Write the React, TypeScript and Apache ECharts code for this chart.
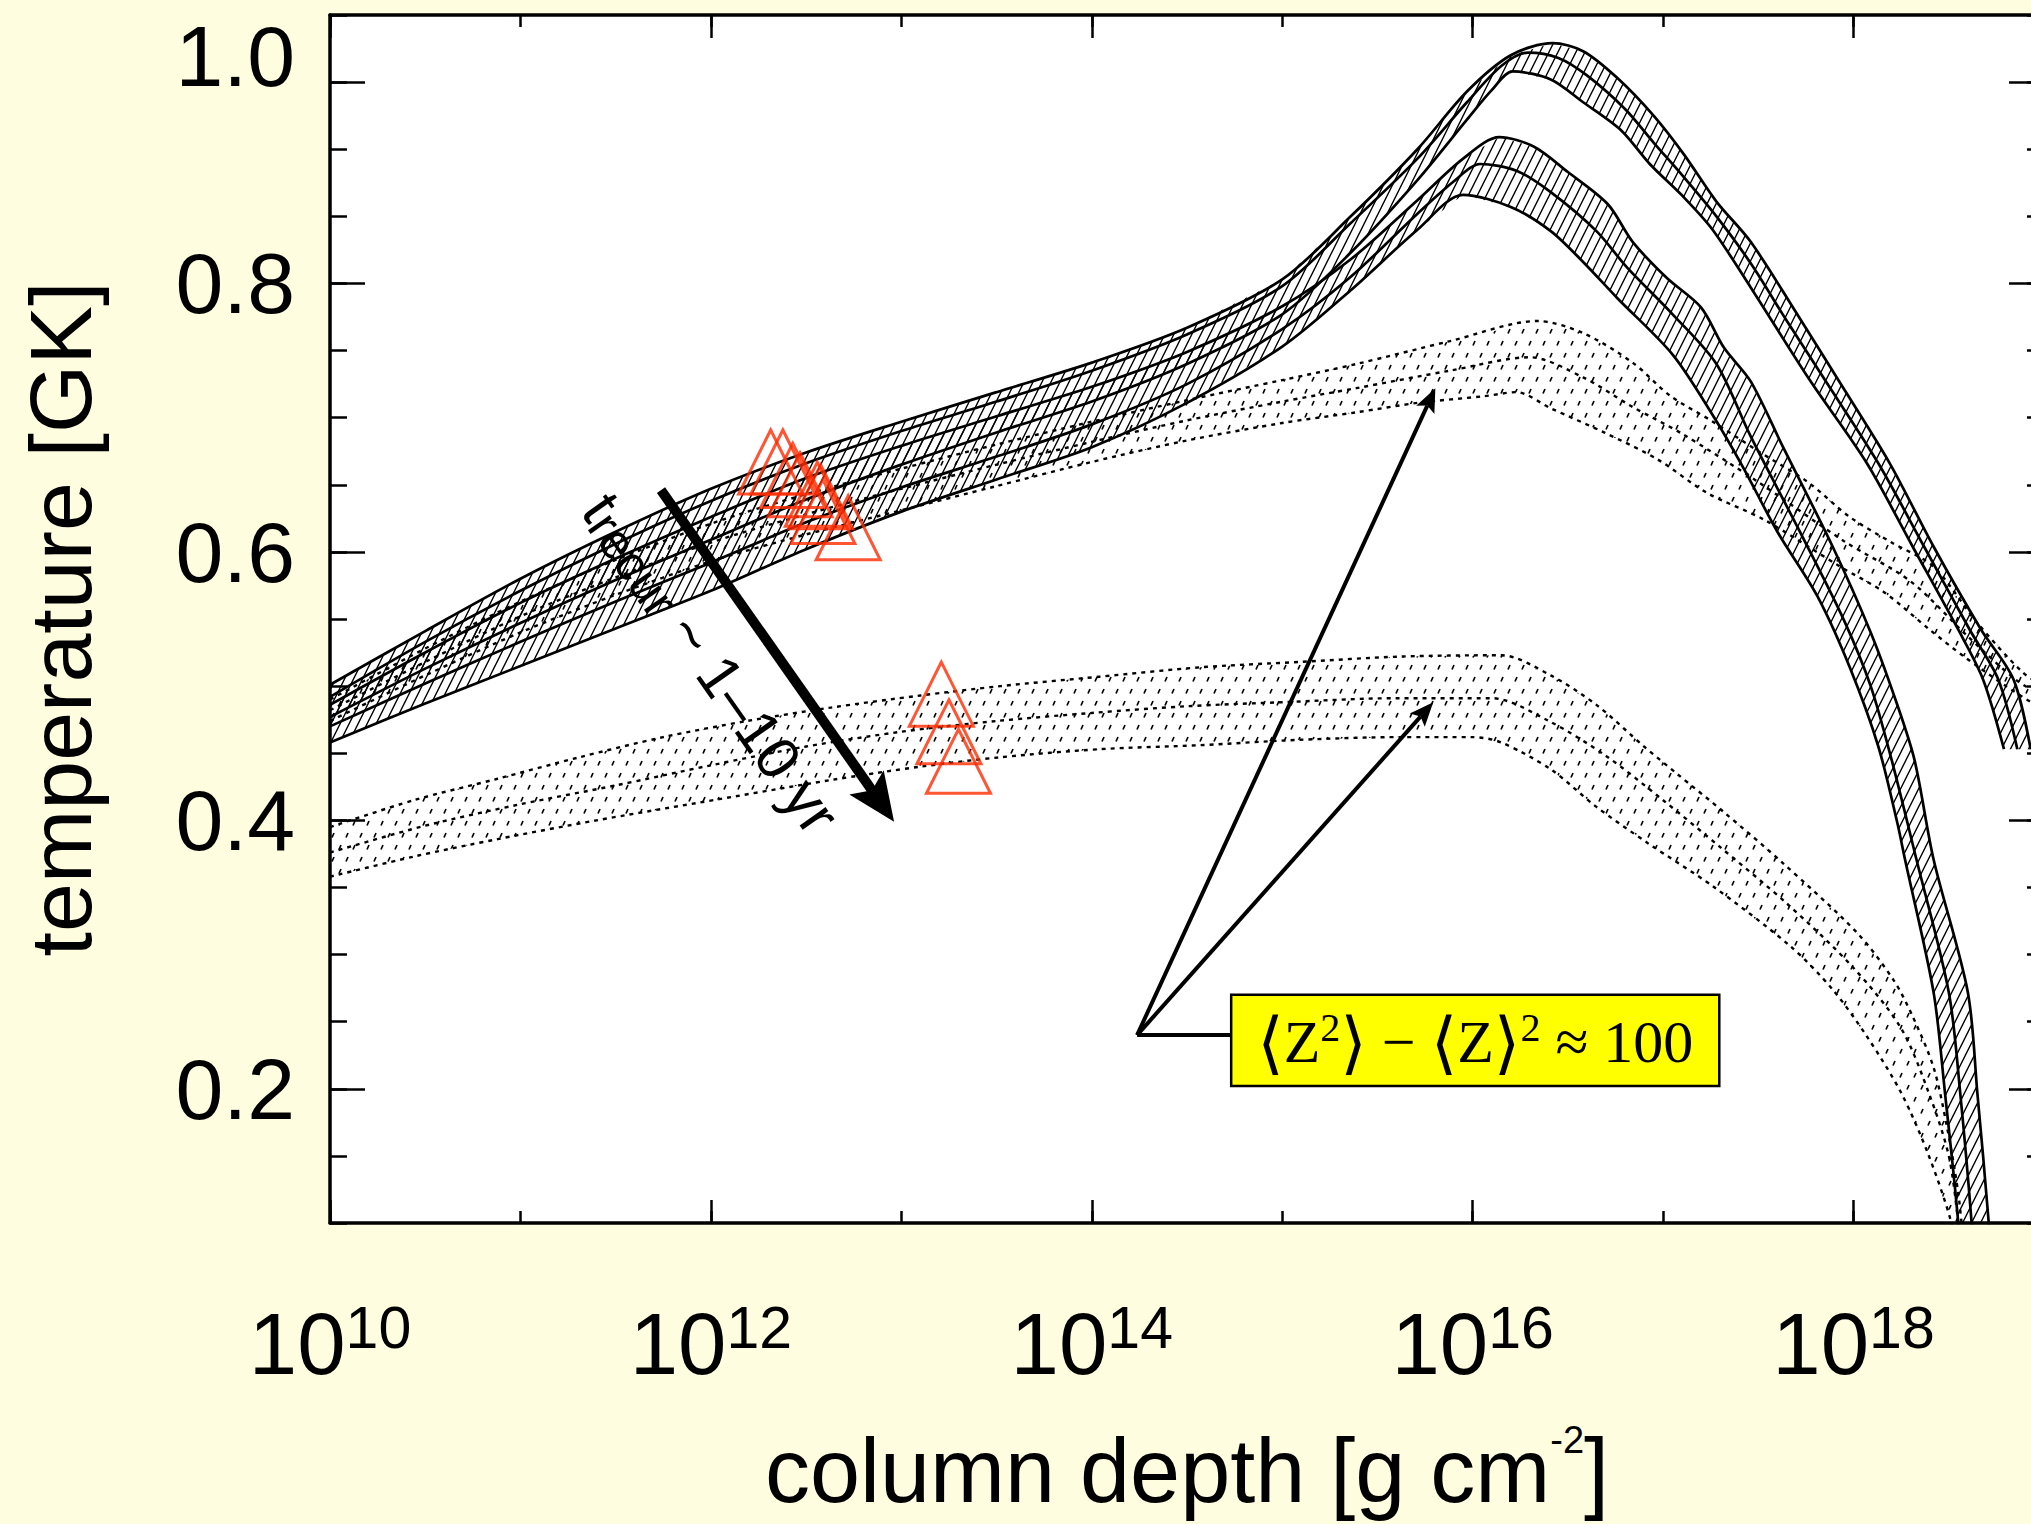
import React, { useEffect, useRef } from 'react';
import * as echarts from 'echarts';

// x: log10(column depth / g cm^-2), y: temperature [GK]
const g1Upper: number[][] = [[10,0.501],[10.5,0.541],[11,0.580],[11.5,0.615],[12,0.647],[12.5,0.674],[13,0.697],[13.5,0.719],[14,0.741],[14.5,0.767],[15,0.803],[15.36,0.850],[15.71,0.900],[15.97,0.943],[16.2,0.970],[16.42,0.979],[16.58,0.973],[16.76,0.953],[16.95,0.925],[17.11,0.896],[17.28,0.861],[17.46,0.831],[17.7,0.778],[17.92,0.728],[18.19,0.666],[18.42,0.604],[18.67,0.542],[18.84,0.505],[18.93,0.453]];
const g1Mid: number[][] = [[10,0.492],[10.5,0.533],[11,0.571],[11.5,0.606],[12,0.638],[12.5,0.666],[13,0.690],[13.5,0.712],[14,0.735],[14.5,0.762],[15,0.798],[15.36,0.845],[15.71,0.893],[15.97,0.935],[16.15,0.962],[16.29,0.972],[16.45,0.968],[16.6,0.955],[16.8,0.930],[16.95,0.905],[17.11,0.879],[17.28,0.850],[17.46,0.815],[17.65,0.772],[17.85,0.728],[18.13,0.666],[18.37,0.604],[18.61,0.542],[18.76,0.505],[18.86,0.453]];
const g1Lower: number[][] = [[10,0.477],[10.5,0.513],[11,0.547],[11.5,0.579],[12,0.609],[12.5,0.639],[13,0.665],[13.5,0.689],[14,0.712],[14.5,0.740],[15,0.777],[15.36,0.823],[15.71,0.877],[15.97,0.922],[16.1,0.944],[16.21,0.958],[16.41,0.952],[16.58,0.935],[16.78,0.914],[16.93,0.889],[17.11,0.864],[17.26,0.840],[17.46,0.797],[17.77,0.728],[18.07,0.666],[18.31,0.604],[18.55,0.542],[18.68,0.505],[18.79,0.453]];

const g2Upper: number[][] = [[10,0.486],[10.5,0.525],[11,0.562],[11.5,0.595],[12,0.626],[12.5,0.655],[13,0.679],[13.5,0.701],[14,0.723],[14.5,0.749],[15,0.783],[15.36,0.818],[15.71,0.862],[15.95,0.893],[16.14,0.909],[16.32,0.902],[16.5,0.883],[16.71,0.859],[16.84,0.831],[17.02,0.804],[17.2,0.782],[17.32,0.752],[17.46,0.727],[17.63,0.678],[17.89,0.604],[18.09,0.540],[18.22,0.490],[18.32,0.445],[18.42,0.371],[18.6,0.272],[18.65,0.197],[18.71,0.100],[18.73,0.050]];
const g2Mid: number[][] = [[10,0.470],[10.5,0.502],[11,0.533],[11.5,0.563],[12,0.592],[12.5,0.622],[13,0.648],[13.5,0.671],[14,0.695],[14.5,0.725],[15,0.766],[15.36,0.805],[15.71,0.852],[15.9,0.876],[16.04,0.889],[16.23,0.884],[16.41,0.868],[16.65,0.839],[16.81,0.812],[17.05,0.777],[17.28,0.740],[17.46,0.686],[17.74,0.609],[17.95,0.549],[18.09,0.500],[18.2,0.445],[18.33,0.371],[18.5,0.272],[18.56,0.197],[18.62,0.100],[18.64,0.050]];
const g2Lower: number[][] = [[10,0.458],[10.5,0.487],[11,0.515],[11.5,0.543],[12,0.571],[12.5,0.602],[13,0.630],[13.5,0.654],[14,0.678],[14.5,0.711],[15,0.753],[15.36,0.795],[15.71,0.840],[15.95,0.866],[16.2,0.857],[16.41,0.839],[16.58,0.816],[16.76,0.789],[17.05,0.747],[17.26,0.702],[17.42,0.663],[17.6,0.615],[17.81,0.567],[17.98,0.514],[18.13,0.455],[18.23,0.398],[18.27,0.371],[18.42,0.272],[18.48,0.197],[18.55,0.100],[18.57,0.050]];

const d1Upper: number[][] = [[10,0.490],[10.5,0.528],[11,0.563],[11.5,0.594],[12,0.621],[12.5,0.643],[13,0.662],[13.5,0.680],[14,0.697],[14.5,0.713],[15,0.728],[15.39,0.740],[15.88,0.757],[16.34,0.772],[16.58,0.763],[16.84,0.741],[17.04,0.716],[17.25,0.698],[17.5,0.675],[17.76,0.652],[17.98,0.626],[18.2,0.607],[18.42,0.589],[18.65,0.547],[18.89,0.510],[19,0.500]];
const d1Mid: number[][] = [[10,0.482],[10.5,0.518],[11,0.552],[11.5,0.581],[12,0.607],[12.5,0.628],[13,0.647],[13.5,0.665],[14,0.682],[14.5,0.698],[15,0.712],[15.39,0.722],[15.88,0.735],[16.3,0.745],[16.58,0.730],[16.84,0.708],[17.1,0.688],[17.5,0.652],[17.95,0.608],[18.3,0.578],[18.6,0.537],[18.85,0.505],[19,0.492]];
const d1Lower: number[][] = [[10,0.474],[10.5,0.508],[11,0.540],[11.5,0.568],[12,0.593],[12.5,0.613],[13,0.631],[13.5,0.649],[14,0.667],[14.5,0.683],[15,0.696],[15.39,0.704],[15.71,0.711],[16.06,0.716],[16.23,0.719],[16.41,0.707],[16.69,0.689],[16.97,0.669],[17.23,0.644],[17.53,0.624],[17.93,0.589],[18.16,0.570],[18.4,0.542],[18.58,0.522],[18.8,0.500],[19,0.482]];

const d2Upper: number[][] = [[10,0.395],[10.44,0.415],[10.88,0.431],[11.31,0.447],[11.75,0.462],[12.19,0.474],[12.63,0.484],[13.1,0.493],[13.52,0.500],[14.04,0.507],[14.57,0.514],[15.09,0.518],[15.62,0.522],[16.15,0.523],[16.41,0.508],[16.65,0.486],[16.9,0.455],[17.07,0.435],[17.32,0.406],[17.63,0.368],[18.02,0.316],[18.21,0.281],[18.31,0.254],[18.42,0.216],[18.49,0.172],[18.55,0.122],[18.58,0.080]];
const d2Mid: number[][] = [[10,0.376],[10.5,0.396],[11,0.412],[11.5,0.426],[12,0.441],[12.5,0.455],[13,0.466],[13.5,0.474],[14,0.480],[14.5,0.485],[15,0.488],[15.6,0.491],[16.1,0.491],[16.4,0.474],[16.7,0.448],[17,0.415],[17.3,0.380],[17.65,0.338],[18,0.290],[18.25,0.245],[18.4,0.195],[18.5,0.150],[18.55,0.100],[18.56,0.080]];
const d2Lower: number[][] = [[10,0.358],[10.44,0.373],[10.88,0.386],[11.4,0.400],[11.93,0.413],[12.63,0.430],[13.1,0.440],[13.52,0.447],[14.04,0.453],[14.57,0.456],[15.09,0.460],[15.62,0.462],[16,0.462],[16.15,0.458],[16.41,0.438],[16.65,0.410],[16.92,0.383],[17.26,0.351],[17.67,0.306],[17.89,0.274],[18.07,0.239],[18.25,0.197],[18.39,0.152],[18.51,0.102],[18.53,0.080]];

const trianglesUpper: number[][] = [[12.314,0.667],[12.378,0.667],[12.430,0.657],[12.468,0.650],[12.559,0.643],[12.577,0.641],[12.588,0.630],[12.721,0.618]];
const trianglesLower: number[][] = [[13.21,0.494],[13.25,0.466],[13.30,0.444]];

const xLabelExponents = [10, 12, 14, 16, 18];
const yMajorTicks = [0.2, 0.4, 0.6, 0.8, 0.95];
const yMajorLabels = ['0.2', '0.4', '0.6', '0.8', '1.0'];

// annotation anchors in data coordinates
const recurArrow: number[][] = [[11.738, 0.646], [12.962, 0.399]];
const recurLabelAnchor = [12.0, 0.517];
const impurityOrigin = [14.238, 0.240];
const impurityTargets: number[][] = [[15.804, 0.722], [15.793, 0.488]];
const impurityBox: number[][] = [[14.732, 0.270], [17.295, 0.202]];

const FONT = '"Liberation Sans", Arial, Helvetica, sans-serif';
const SERIF = '"Liberation Serif", "DejaVu Serif", "Times New Roman", serif';
const BG = '#fffddf';
const RED = '#ff2a00';

function makeHatch() {
  const w = 9, h = 18;
  const c = document.createElement('canvas');
  c.width = w; c.height = h;
  const g = c.getContext('2d')!;
  g.strokeStyle = '#000';
  g.lineWidth = 1.4;
  g.beginPath();
  for (const off of [-w, 0, w]) {
    g.moveTo(off - 1, h + 2);
    g.lineTo(off + w + 1, -2);
  }
  g.stroke();
  return { image: c.toDataURL(), repeat: 'repeat', imageWidth: w, imageHeight: h };
}

function makeDashes() {
  const w = 14, h = 24;
  const c = document.createElement('canvas');
  c.width = w; c.height = h;
  const g = c.getContext('2d')!;
  g.strokeStyle = '#000';
  g.lineWidth = 1.7;
  g.lineCap = 'butt';
  g.beginPath();
  g.moveTo(3, 9.5); g.lineTo(5, 5);
  g.moveTo(10, 21.5); g.lineTo(12, 17);
  g.stroke();
  return { image: c.toDataURL(), repeat: 'repeat', imageWidth: w, imageHeight: h };
}

export default function App() {
  const ref = useRef<HTMLDivElement>(null);
  useEffect(() => {
    document.body.style.margin = '0';
    document.body.style.background = BG;
    const chart = echarts.init(ref.current!, null, { renderer: 'svg' });
    const hatch = makeHatch();
    const dashes = makeDashes();

    const band = (upper: number[][], lower: number[][], fill: any, z: number) => ({
      type: 'custom',
      coordinateSystem: 'cartesian2d',
      xAxisIndex: 0,
      yAxisIndex: 0,
      silent: true,
      z,
      data: [[upper[0][0], upper[0][1]]],
      renderItem: (params: any, api: any) => {
        const pts: number[][] = [];
        for (const p of upper) pts.push(api.coord(p));
        for (let i = lower.length - 1; i >= 0; i--) pts.push(api.coord(lower[i]));
        const cs = params.coordSys;
        return {
          type: 'polygon',
          shape: { points: pts },
          style: { fill, stroke: null },
          clipPath: { type: 'rect', shape: { x: cs.x, y: cs.y, width: cs.width, height: cs.height } },
        };
      },
    });

    const curve = (data: number[][], dashed: boolean) => ({
      type: 'line',
      xAxisIndex: 0,
      yAxisIndex: 0,
      data,
      symbol: 'none',
      silent: true,
      z: 3,
      clip: true,
      smooth: 0.3,
      lineStyle: { color: '#000', width: dashed ? 2.4 : 2.7, type: dashed ? [4, 5] : 'solid' },
    });

    const tri = (data: number[][]) => ({
      type: 'scatter',
      xAxisIndex: 0,
      yAxisIndex: 0,
      data,
      symbol: 'triangle',
      symbolSize: 64,
      silent: true,
      z: 5,
      itemStyle: { color: 'rgba(0,0,0,0)', borderColor: RED, borderWidth: 3 },
    });

    const axisLine = { show: true, onZero: false, lineStyle: { color: '#000', width: 3.5 } };
    const tickStyle = { color: '#000', width: 2.5 };
    const noLine = { show: false };
    const noSplit = { show: false };

    const xBase = { type: 'value', min: 10, max: 19, splitLine: noSplit };
    const yBase = { type: 'value', min: 0.1, max: 1.0, splitLine: noSplit };

    const option: any = {
      animation: false,
      backgroundColor: BG,
      grid: { left: 330, top: 15, right: -13, bottom: 301, show: true, backgroundColor: '#fff', borderWidth: 0, containLabel: false, outerBoundsMode: 'none' },
      xAxis: [
        {
          ...xBase, position: 'bottom', interval: 2, axisLine,
          axisTick: { inside: true, length: 23, lineStyle: tickStyle },
          axisLabel: {
            margin: 75,
            formatter: (v: number) => {
              const r = Math.round(v);
              return Math.abs(v - r) < 1e-6 && xLabelExponents.includes(r) ? `{b|10}{s|${r}}` : '';
            },
            rich: {
              b: { fontSize: 87, lineHeight: 90, fontFamily: FONT, color: '#000' },
              s: { fontSize: 59, lineHeight: 44, verticalAlign: 'top', fontFamily: FONT, color: '#000' },
            },
          },
          name: '{a|column depth [g cm}{s|-2}{a|]}',
          nameLocation: 'middle',
          nameGap: 198,
          nameTextStyle: {
            rich: {
              a: { fontSize: 90, lineHeight: 100, fontFamily: FONT, color: '#000' },
              s: { fontSize: 38, lineHeight: 42, verticalAlign: 'top', fontFamily: FONT, color: '#000' },
            },
          },
        },
        { ...xBase, position: 'bottom', interval: 1, axisLine: noLine, axisTick: { inside: true, length: 12, lineStyle: tickStyle }, axisLabel: { show: false } },
        { ...xBase, position: 'top', interval: 2, axisLine, axisTick: { inside: true, length: 23, lineStyle: tickStyle }, axisLabel: { show: false } },
        { ...xBase, position: 'top', interval: 1, axisLine: noLine, axisTick: { inside: true, length: 12, lineStyle: tickStyle }, axisLabel: { show: false } },
      ],
      yAxis: [
        {
          ...yBase, position: 'left', axisLine,
          axisTick: { inside: true, length: 35, lineStyle: tickStyle, customValues: yMajorTicks },
          axisLabel: {
            customValues: yMajorTicks,
            margin: 35,
            formatter: (v: number) => {
              const i = yMajorTicks.findIndex((t) => Math.abs(t - v) < 1e-6);
              if (i < 0) return '';
              return i === yMajorTicks.length - 1 ? `{up|${yMajorLabels[i]}}` : `{n|${yMajorLabels[i]}}`;
            },
            rich: {
              n: { fontSize: 86, fontFamily: FONT, color: '#000' },
              up: { fontSize: 86, fontFamily: FONT, color: '#000', padding: [0, 0, 53, 0] },
            },
          },
          name: 'temperature [GK]',
          nameLocation: 'middle',
          nameGap: 220,
          nameTextStyle: { fontSize: 88, lineHeight: 100, fontFamily: FONT, color: '#000' },
        },
        { ...yBase, position: 'left', interval: 0.05, axisLine: noLine, axisTick: { inside: true, length: 17, lineStyle: tickStyle }, axisLabel: { show: false } },
        { ...yBase, position: 'right', axisLine, axisTick: { inside: true, length: 35, lineStyle: tickStyle, customValues: yMajorTicks }, axisLabel: { show: false } },
        { ...yBase, position: 'right', interval: 0.05, axisLine: noLine, axisTick: { inside: true, length: 17, lineStyle: tickStyle }, axisLabel: { show: false } },
      ],
      series: [
        band(d2Upper, d2Lower, dashes, 1),
        band(d1Upper, d1Lower, dashes, 1),
        band(g2Upper, g2Lower, hatch, 1),
        band(g1Upper, g1Lower, hatch, 1),
        curve(d2Upper, true), curve(d2Mid, true), curve(d2Lower, true),
        curve(d1Upper, true), curve(d1Mid, true), curve(d1Lower, true),
        curve(g2Upper, false), curve(g2Mid, false), curve(g2Lower, false),
        curve(g1Upper, false), curve(g1Mid, false), curve(g1Lower, false),
        tri(trianglesUpper),
        tri(trianglesLower),
      ],
    };
    chart.setOption(option);

    const P = (p: number[]) => chart.convertToPixel({ xAxisIndex: 0, yAxisIndex: 0 }, p) as number[];
    const arrow = (s: number[], t: number[], w: number, hl: number, hw: number) => {
      const dx = t[0] - s[0], dy = t[1] - s[1];
      const L = Math.hypot(dx, dy);
      const ux = dx / L, uy = dy / L;
      const px = -uy, py = ux;
      const bx = t[0] - ux * hl, by = t[1] - uy * hl;
      const nx = t[0] - ux * hl * 0.8, ny = t[1] - uy * hl * 0.8;
      return [
        { type: 'line', z: 100, silent: true, shape: { x1: s[0], y1: s[1], x2: nx, y2: ny }, style: { stroke: '#000', lineWidth: w } },
        { type: 'polygon', z: 101, silent: true, shape: { points: [[t[0], t[1]], [bx + px * hw, by + py * hw], [nx, ny], [bx - px * hw, by - py * hw]] }, style: { fill: '#000' } },
      ];
    };

    const a0 = P(recurArrow[0]);
    const a1 = P(recurArrow[1]);
    const o = P(impurityOrigin);
    const b0 = P(impurityBox[0]);
    const b1 = P(impurityBox[1]);
    const lbl = P(recurLabelAnchor);
    const ang = Math.atan2(a1[1] - a0[1], a1[0] - a0[0]);

    const graphic: any[] = [
      ...arrow(a0, a1, 10, 48, 21),
      ...arrow(o, P(impurityTargets[0]), 4, 24, 10),
      ...arrow(o, P(impurityTargets[1]), 4, 24, 10),
      { type: 'line', z: 100, silent: true, shape: { x1: o[0], y1: o[1], x2: b0[0], y2: o[1] }, style: { stroke: '#000', lineWidth: 4 } },
      { type: 'rect', z: 102, silent: true, shape: { x: b0[0], y: b0[1], width: b1[0] - b0[0], height: b1[1] - b0[1] }, style: { fill: '#ffff00', stroke: '#000', lineWidth: 2.5 } },
      {
        type: 'text', z: 103, silent: true,
        x: (b0[0] + b1[0]) / 2, y: (b0[1] + b1[1]) / 2 + 2,
        style: {
          text: '{k|⟨}{m|Z}{s|2}{k|⟩}{m| − }{k|⟨}{m|Z}{k|⟩}{s|2}{m| ≈ 100}',
          align: 'center', verticalAlign: 'middle',
          rich: {
            m: { fontSize: 60, lineHeight: 70, fontFamily: SERIF, fill: '#000' },
            k: { fontSize: 68, lineHeight: 70, fontFamily: '"DejaVu Sans", sans-serif', fill: '#000' },
            s: { fontSize: 40, lineHeight: 44, verticalAlign: 'top', fontFamily: SERIF, fill: '#000' },
          },
        },
      },
      {
        type: 'text', z: 103, silent: true,
        x: lbl[0], y: lbl[1], rotation: -ang,
        style: {
          text: '{m|t}{s|recur}{m| ~ 1–10 yr}',
          align: 'center', verticalAlign: 'middle',
          rich: {
            m: { fontSize: 60, lineHeight: 64, fontFamily: FONT, fill: '#000' },
            s: { fontSize: 50, lineHeight: 48, verticalAlign: 'bottom', fontFamily: FONT, fill: '#000' },
          },
        },
      },
    ];
    chart.setOption({ graphic });

    return () => chart.dispose();
  }, []);
  return <div ref={ref} style={{ position: 'absolute', left: 0, top: 0, width: 2031, height: 1524 }} />;
}
